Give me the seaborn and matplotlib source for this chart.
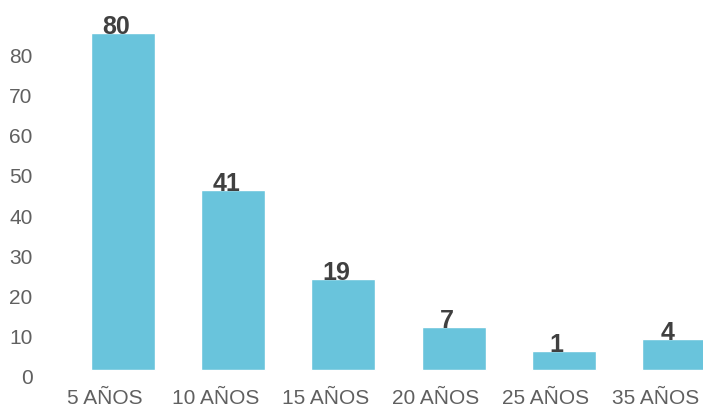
import matplotlib

matplotlib.use("Agg")
import matplotlib.pyplot as plt
import matplotlib.transforms as mtransforms
import pandas as pd
import seaborn as sns

# values
categories = ["5 AÑOS", "10 AÑOS", "15 AÑOS", "20 AÑOS", "25 AÑOS", "35 AÑOS"]
counts = [80, 41, 19, 7, 1, 4]
y_ticks = [0, 10, 20, 30, 40, 50, 60, 70, 80]

# the source chart draws its bars slightly raised against the axis ticks
BAR_BASE = 1.75
BAR_PAD = 3.7

BAR_COLOR = "#69c4dc"
TICK_COLOR = "#606060"
LABEL_COLOR = "#404040"

sns.set_theme(style="white")
plt.rcParams["font.family"] = ["Liberation Sans", "DejaVu Sans"]

frame = pd.DataFrame({"category": categories, "count": counts})
frame["bar_height"] = frame["count"] + BAR_PAD

fig = plt.figure(figsize=(7.03, 4.09), dpi=100)
ax = fig.add_axes([45 / 703, 32 / 409, 658 / 703, 377 / 409])

sns.barplot(
    data=frame,
    x="category",
    y="bar_height",
    color=BAR_COLOR,
    saturation=1,
    width=0.58,
    bottom=BAR_BASE,
    ax=ax,
)

for index, value in enumerate(frame["count"]):
    ax.annotate(
        str(value),
        xy=(index, BAR_BASE + value + BAR_PAD),
        xytext=(-5, -1),
        textcoords="offset points",
        ha="center",
        va="baseline",
        fontsize=18,
        fontweight="bold",
        color=LABEL_COLOR,
    )

ax.set_xlim(-0.708, 5.263)
ax.set_ylim(0, 93.67)
ax.set_yticks(y_ticks)
ax.set_xlabel("")
ax.set_ylabel("")
ax.tick_params(axis="both", length=0, labelsize=15, colors=TICK_COLOR)
ax.tick_params(axis="y", pad=9)
ax.tick_params(axis="x", pad=9)
sns.despine(ax=ax, left=True, bottom=True)

# category labels sit a little left of the bar centres in the source
shift = mtransforms.ScaledTranslation(-18 / 100, 0, fig.dpi_scale_trans)
for label in ax.get_xticklabels():
    label.set_transform(label.get_transform() + shift)

fig.savefig("out.png", dpi=100)
